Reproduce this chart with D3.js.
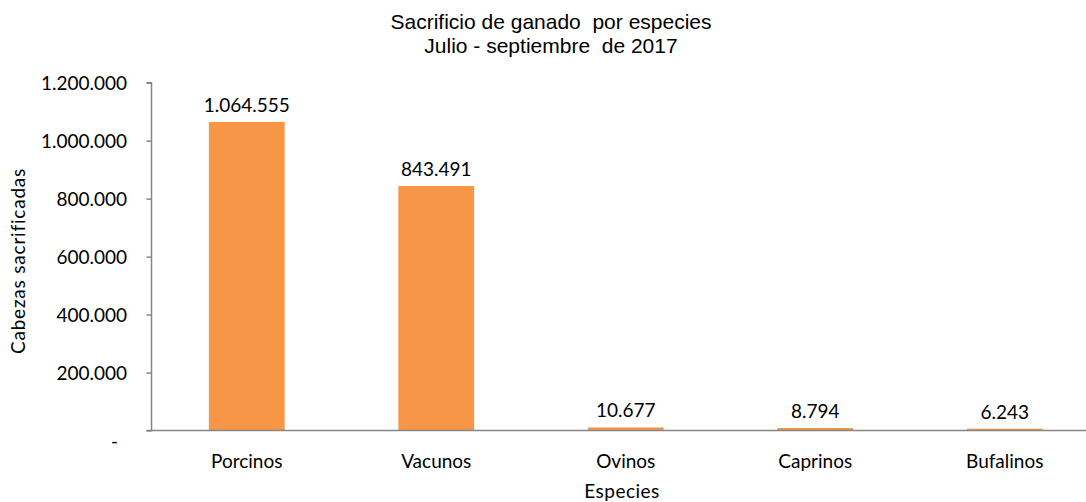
<!DOCTYPE html>
<html><head><meta charset="utf-8">
<script src="https://cdn.jsdelivr.net/npm/d3@7"></script>
<style>body{margin:0;background:#fff}svg{display:block}</style>
</head><body>
<svg id="c" width="1086" height="502"></svg>
<script>
const categories = ["Porcinos","Vacunos","Ovinos","Caprinos","Bufalinos"];
const values = [1064555, 843491, 10677, 8794, 6243];
const yTicks = [0, 200000, 400000, 600000, 800000, 1000000, 1200000];
const titleLines = ["Sacrificio de ganado  por especies", "Julio - septiembre  de 2017"];
const yTitle = "Cabezas sacrificadas";
const xTitle = "Especies";

const svg = d3.select("#c");
const font = "Lato, 'Open Sans', sans-serif";
const fs = 19;
const fmt = v => v === 0 ? "-" : d3.format(",")(v).replace(/,/g, ".");

const x = d3.scaleBand().domain(categories).range([152, 1099.5]).paddingInner(0.6).paddingOuter(0.3);
const y = d3.scaleLinear().domain([0, 1200000]).range([430.5, 82.7]);

// bars
svg.selectAll("rect.bar").data(values).join("rect")
  .attr("class","bar")
  .attr("x", (d,i) => x(categories[i]))
  .attr("width", x.bandwidth())
  .attr("y", d => y(d))
  .attr("height", d => y(0) - y(d))
  .attr("fill", "#F79646");

// y axis
const yAxis = d3.axisLeft(y).tickValues(yTicks).tickFormat(fmt).tickSize(5).tickPadding(19.5);
const gy = svg.append("g").attr("transform","translate(151.5,0)").call(yAxis);
gy.select(".domain").attr("stroke","#868686").attr("stroke-width",1.5).attr("d","M-5,82.7H0V430.5H-5");
gy.selectAll(".tick line").attr("stroke","#868686").attr("stroke-width",1.5);
gy.selectAll(".tick text").attr("font-family",font).attr("font-size",fs).attr("fill","#000")
  .attr("dx", d => d === 0 ? -9 : 0)
  .attr("dy", d => d === 0 ? "0.9em" : "0.35em");

// x axis line
svg.append("line").attr("x1",151.5).attr("x2",1086).attr("y1",430.5).attr("y2",430.5)
  .attr("stroke","#868686").attr("stroke-width",1.5);

// x labels
svg.selectAll("text.xl").data(categories).join("text")
  .attr("class","xl")
  .attr("x", d => x(d) + x.bandwidth()/2)
  .attr("y", 468)
  .attr("text-anchor","middle")
  .attr("font-family",font).attr("font-size",fs).attr("fill","#000")
  .text(d => d);

// value labels
svg.selectAll("text.vl").data(values).join("text")
  .attr("class","vl")
  .attr("x", (d,i) => x(categories[i]) + x.bandwidth()/2)
  .attr("y", d => y(d) - 10)
  .attr("text-anchor","middle")
  .attr("font-family",font).attr("font-size",fs).attr("fill","#000")
  .text(d => fmt(d));

// titles
svg.selectAll("text.t").data(titleLines).join("text")
  .attr("class","t")
  .attr("x", 551).attr("y", (d,i) => 29 + i*24)
  .attr("text-anchor","middle")
  .attr("font-family","'Liberation Sans', Arial, sans-serif").attr("font-size",21).attr("fill","#000")
  .style("white-space","pre")
  .text(d => d);

svg.append("text").attr("transform","translate(25,261) rotate(-90)")
  .attr("text-anchor","middle").attr("font-family",font).attr("font-size",fs).attr("fill","#000")
  .attr("letter-spacing", 0.8)
  .text(yTitle);

svg.append("text").attr("x",622).attr("y",498)
  .attr("text-anchor","middle").attr("font-family",font).attr("font-size",fs).attr("fill","#000")
  .attr("letter-spacing", 0.5)
  .text(xTitle);
</script>
</body></html>
